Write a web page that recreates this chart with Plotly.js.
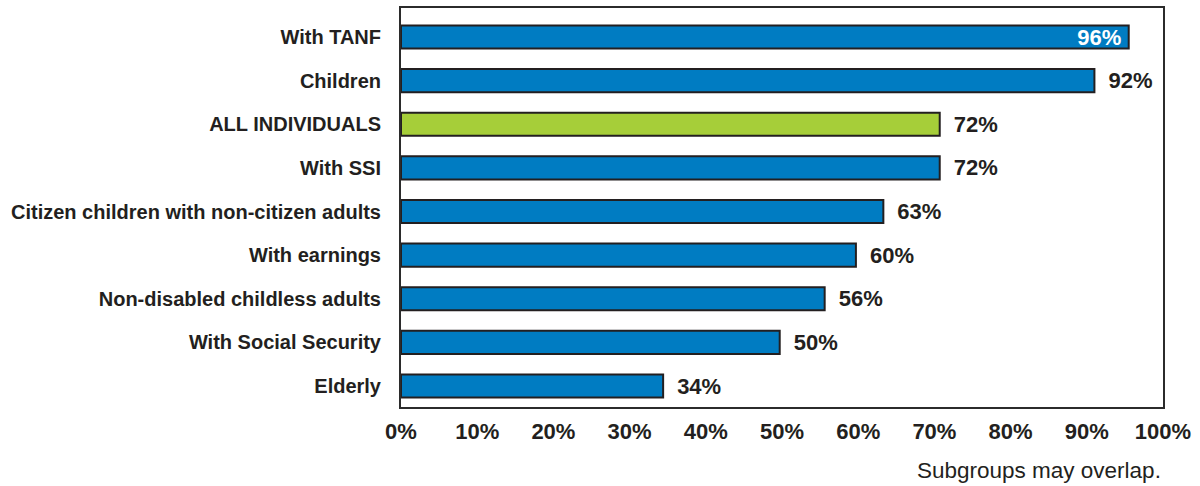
<!DOCTYPE html>
<html>
<head>
<meta charset="utf-8">
<script src="https://cdn.plot.ly/plotly-3.0.1.min.js"></script>
<style>
  html, body { margin: 0; padding: 0; background: #ffffff; }
  #chart { width: 1200px; height: 486px; }
</style>
</head>
<body>
<div id="chart"></div>
<script>
const categories = [
  "With TANF",
  "Children",
  "ALL INDIVIDUALS",
  "With SSI",
  "Citizen children with non-citizen adults",
  "With earnings",
  "Non-disabled childless adults",
  "With Social Security",
  "Elderly"
];
// bar lengths (percent)
const values = [95.5, 91, 70.7, 70.7, 63.3, 59.7, 55.6, 49.7, 34.4];
// value labels as printed on the chart
const labels = ["96%", "92%", "72%", "72%", "63%", "60%", "56%", "50%", "34%"];
const tickVals = [0, 10, 20, 30, 40, 50, 60, 70, 80, 90, 100];
const tickText = ["0%", "10%", "20%", "30%", "40%", "50%", "60%", "70%", "80%", "90%", "100%"];
const highlight = "ALL INDIVIDUALS";
const note = "Subgroups may overlap.";

const blue = "#007CC2";
const green = "#A6CE39";
const dark = "#231F20";
const fam = "Liberation Sans, Arial, sans-serif";

const inside = values.map(v => v >= 95);

const trace = {
  type: "bar",
  orientation: "h",
  y: categories,
  x: values,
  text: labels.map((t, i) => inside[i] ? t + "\u2009" : "\u2002" + t),
  textposition: inside.map(f => f ? "inside" : "outside"),
  insidetextanchor: "end",
  textangle: 0,
  cliponaxis: false,
  constraintext: "none",
  insidetextfont: { family: fam, size: 22, color: "#ffffff", weight: "bold" },
  outsidetextfont: { family: fam, size: 22, color: dark, weight: "bold" },
  marker: {
    color: categories.map(c => c === highlight ? green : blue),
    line: { color: dark, width: 2 }
  },
  width: 0.53,
  hoverinfo: "skip"
};

const layout = {
  width: 1200,
  height: 486,
  margin: { l: 401, r: 37, t: 8, b: 79 },
  paper_bgcolor: "#ffffff",
  plot_bgcolor: "#ffffff",
  showlegend: false,
  font: { family: fam, color: dark },
  xaxis: {
    range: [0, 100],
    tickvals: tickVals,
    ticktext: tickText,
    showgrid: false,
    zeroline: false,
    showline: true,
    mirror: true,
    linecolor: "#2b2b2b",
    linewidth: 2,
    ticks: "",
    ticklabelstandoff: 4,
    tickfont: { family: fam, size: 22, color: dark, weight: "bold" },
    fixedrange: true
  },
  yaxis: {
    type: "category",
    range: [8.48, -0.665],
    showgrid: false,
    zeroline: false,
    showline: true,
    mirror: true,
    linecolor: "#2b2b2b",
    linewidth: 2,
    ticks: "",
    ticklabelstandoff: 14,
    tickfont: { family: fam, size: 20, color: dark, weight: "bold" },
    fixedrange: true
  },
  annotations: [{
    text: note,
    xref: "paper",
    yref: "paper",
    x: 1,
    y: 0,
    xanchor: "right",
    yanchor: "top",
    yshift: -49,
    showarrow: false,
    font: { family: fam, size: 22.5, color: dark }
  }]
};

Plotly.newPlot("chart", [trace], layout, { displayModeBar: false, staticPlot: true });
</script>
</body>
</html>
